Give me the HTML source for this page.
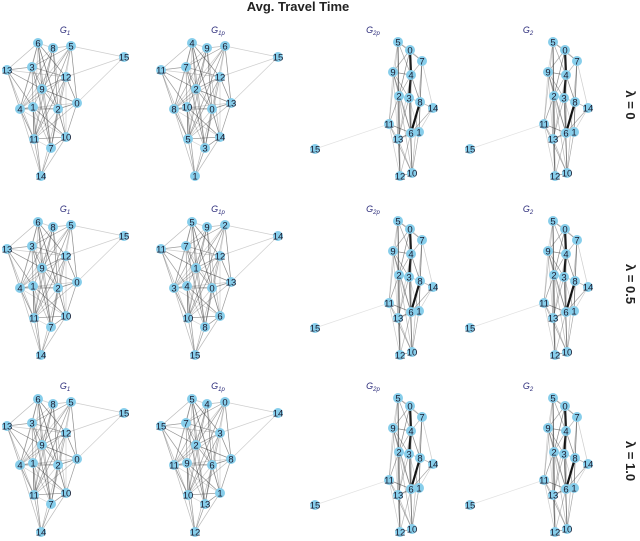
<!DOCTYPE html>
<html><head><meta charset="utf-8"><style>
html,body{margin:0;padding:0;background:#fff;width:640px;height:541px;overflow:hidden}
svg{display:block;font-family:"Liberation Sans",sans-serif}
</style></head><body>
<svg id="fig" width="640" height="541" viewBox="0 0 640 541">
<text x="298" y="11" text-anchor="middle" font-size="13" font-weight="bold" fill="#222">Avg. Travel Time</text>
<g id="panels"></g>
</svg>
<script>
// layout slot positions (row 1 reference coords)
const g1X=[38,53,71,124,7,32,66,42,77,20,33,58,34,66,51,41];
const g1Y=[43,48,46,57,70,67,77,89,103,109,107,109,139,137,148,176];
const g2X=[398,410,422,393,411,399,409,420,433,389,411,419,398,315,400,412];
const g2Y=[42,50,61,72,75,96,98,102,108,124,133,132,139,149,176,173];
const g1Edges=[[3,2],[3,6],[3,8],[4,0],[4,5],[4,6],[4,9],[4,7],[4,12],[4,10],[0,1],[0,5],[0,7],[0,9],[0,11],[0,12],[0,14],[0,6],[1,2],[1,7],[1,5],[1,9],[1,11],[1,13],[2,5],[2,6],[2,7],[2,8],[2,11],[2,12],[2,9],[5,6],[5,7],[5,9],[5,12],[5,11],[6,7],[6,8],[6,9],[6,12],[6,13],[7,9],[7,8],[7,10],[7,11],[7,12],[7,14],[8,11],[8,12],[8,13],[8,9],[9,10],[9,12],[9,15],[9,11],[10,11],[10,12],[10,13],[10,14],[10,15],[11,12],[11,13],[11,14],[11,15],[12,13],[12,14],[12,15],[13,14],[13,15],[14,15],[9,13],[6,14],[5,14],[0,13],[1,12]];
const g2Edges=[[1,4],[4,6],[7,10],[0,1],[0,2],[0,3],[0,4],[0,5],[0,9],[0,12],[1,2],[1,3],[1,5],[2,4],[2,7],[2,8],[2,11],[3,4],[3,5],[3,6],[3,9],[4,5],[4,7],[5,6],[5,9],[5,10],[5,12],[5,14],[6,7],[6,10],[6,11],[6,12],[6,15],[7,8],[7,11],[8,11],[8,10],[9,10],[9,12],[9,13],[9,14],[10,11],[10,12],[10,14],[10,15],[11,12],[11,15],[12,14],[12,15],[14,15],[3,12],[0,14],[1,10],[2,15],[4,10],[4,12],[9,15],[3,10],[5,15]];
const g1Labels=["6","8","5","15","13","3","12","9","0","4","1","2","11","10","7","14"];
const g1pLabels=[
 ["4","9","6","15","11","7","12","2","13","8","10","0","5","14","3","1"],
 ["5","9","2","14","11","7","12","1","13","3","4","0","10","6","8","15"],
 ["5","4","0","14","15","7","3","2","8","11","9","6","10","1","13","12"]];
const g2Labels=["5","0","7","9","4","2","3","8","14","11","6","1","13","15","12","10"];
const rowOffsets=[0,179,356];
const rowLabels=["λ = 0","λ = 0.5","λ = 1.0"];
const NS="http://www.w3.org/2000/svg";
const root=document.getElementById('panels');
function mk(tag,attrs,parent){const e=document.createElementNS(NS,tag);for(const k in attrs)e.setAttribute(k,attrs[k]);parent.appendChild(e);return e;}
function edgeStyle(e,i,thick){if(i<thick)return{c:"#111",w:2.2};
  if(thick>0&&(e[0]===13||e[1]===13))return{c:"rgba(60,60,60,0.15)",w:0.7};
  if(thick===0&&(e[0]===3||e[1]===3))return{c:"rgba(60,60,60,0.25)",w:0.7};
  const v=[0.25,0.45,0.6,0.35,0.5][i%5];return{c:"rgba(60,60,60,"+v+")",w:0.7};}
function drawPanel(name,xs,ys,dx,dy,labels,edges,thick,title,sub,tx,ty){
  const g=mk('g',{},root);
  
  
  edges.forEach((e,i)=>{const s=edgeStyle(e,i,thick);
    const l=mk('line',{x1:xs[e[0]]+dx,y1:ys[e[0]]+dy,x2:xs[e[1]]+dx,y2:ys[e[1]]+dy,stroke:s.c,'stroke-width':s.w},g);
    
    });
  xs.forEach((x,i)=>{
    const c=mk('circle',{cx:x+dx,cy:ys[i]+dy,r:5,fill:'#87ceeb'},g);
    
    
    const t=mk('text',{x:x+dx,y:ys[i]+dy+3.4,'text-anchor':'middle','font-size':9.5,fill:'#1a1a2e'},g);
    t.textContent=labels[i];
    
    });
  const tt=mk('text',{x:tx,y:ty,'text-anchor':'middle','font-size':9,'font-style':'italic',fill:'#2b2b7a'},g);
  tt.textContent=title;
  const ts=mk('tspan',{'font-size':6,dy:2},tt);ts.textContent=sub;
  
  
}
rowOffsets.forEach((dy,r)=>{
  drawPanel('g1-graph-row'+(r+1),g1X,g1Y,0,dy,g1Labels,g1Edges,0,'G','1',65,33+dy);
  drawPanel('g1p-graph-row'+(r+1),g1X,g1Y,154,dy,g1pLabels[r],g1Edges,0,'G','1p',218,33+dy);
  drawPanel('g2p-graph-row'+(r+1),g2X,g2Y,0,dy,g2Labels,g2Edges,3,'G','2p',373,33+dy);
  drawPanel('g2-graph-row'+(r+1),g2X,g2Y,155,dy,g2Labels,g2Edges,3,'G','2',528,33+dy);
  const cy=105+dy;
  const lt=mk('text',{x:0,y:0,transform:'translate(626,'+cy+') rotate(90)','text-anchor':'middle','font-size':13,'font-weight':'bold',fill:'#222'},root);
  lt.textContent=rowLabels[r];
  
  
});
</script>
</body></html>
